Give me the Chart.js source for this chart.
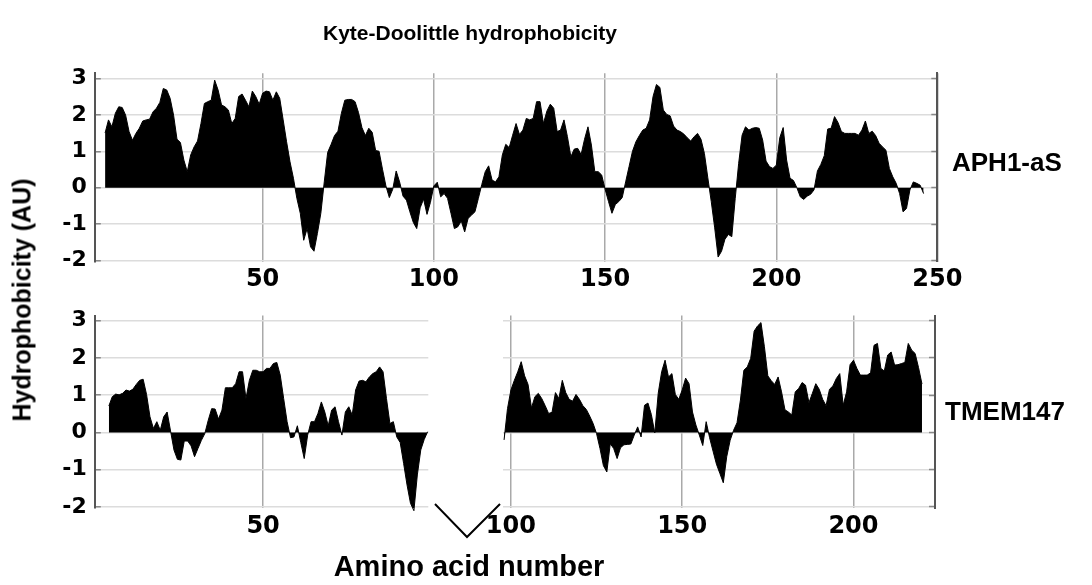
<!DOCTYPE html>
<html>
<head>
<meta charset="utf-8">
<title>Kyte-Doolittle hydrophobicity</title>
<script src="https://cdn.jsdelivr.net/npm/chart.js@4.4.1/dist/chart.umd.min.js"></script>
<style>
  body { margin: 0; background: #fff; }
  #page {
    position: relative; width: 1092px; height: 585px; overflow: hidden;
    font-family: "Liberation Sans", Arial, sans-serif; font-weight: bold; color: #000;
  }
  canvas.layer { position: absolute; left: 0; top: 0; }
  .label { position: absolute; white-space: nowrap; transform: translate(-50%, -50%); }
  .side { position: absolute; white-space: nowrap; transform: translateY(-50%); font-size: 26px; }
</style>
</head>
<body>
<div id="page">
  <canvas id="aphChart" class="layer" width="1092" height="585"></canvas>
  <canvas id="tmemLeftChart" class="layer" width="1092" height="585"></canvas>
  <canvas id="tmemRightChart" class="layer" width="1092" height="585"></canvas>

  <div class="label" style="left:470px; top:33px; font-size:21px;">Kyte-Doolittle hydrophobicity</div>
  <div class="label" style="left:22px; top:300px; font-size:25px; transform:translate(-50%,-50%) rotate(-90deg);">Hydrophobicity (AU)</div>
  <div class="label" style="left:469px; top:566px; font-size:29px;">Amino acid number</div>
  <div class="side" style="left:952px; top:162px;">APH1-aS</div>
  <div class="side" style="left:945px; top:411px;">TMEM147</div>

  <!-- break mark between the two TMEM147 segments -->
  <svg style="position:absolute; left:0; top:0;" width="1092" height="585">
    <polyline points="435,504 467,537 500,504" fill="none" stroke="#000" stroke-width="2"/>
  </svg>
</div>

<script>
// 1. data read from the profile (residue number = start + index)
const aph1Start = 4;
const aph1Values = [
  1.5, 1.86, 1.67, 2.04, 2.22, 2.2, 1.99, 1.54, 1.3, 1.49,          // 4-13
  1.63, 1.83, 1.86, 1.88, 2.08, 2.18, 2.34, 2.72, 2.68, 2.45,       // 14-23
  1.99, 1.33, 1.24, 0.76, 0.44, 0.9, 1.12, 1.28, 1.76, 2.31,        // 24-33
  2.36, 2.4, 2.95, 2.68, 2.27, 2.22, 2.13, 1.76, 1.9, 2.5,          // 34-43
  2.57, 2.4, 2.22, 2.65, 2.5, 2.29, 2.59, 2.65, 2.63, 2.4,          // 44-53
  2.63, 2.45, 1.86, 1.26, 0.71, 0.26, -0.29, -0.7, -1.44, -1.12,    // 54-63
  -1.62, -1.74, -1.25, -0.7, 0.16, 0.97, 1.19, 1.43, 1.55, 2.04,    // 64-73
  2.4, 2.42, 2.42, 2.36, 2.06, 1.65, 1.43, 1.63, 1.52, 1.02,        // 74-83
  1.0, 0.51, 0.05, -0.27, -0.04, 0.46, 0.16, -0.23, -0.34, -0.66,   // 84-93
  -0.95, -1.12, -0.55, -0.31, -0.73, -0.4, 0.05, 0.15, -0.25, -0.16, // 94-103
  -0.29, -0.7, -1.12, -1.07, -0.91, -1.21, -0.84, -0.75, -0.66, -0.29, // 104-113
  0.09, 0.44, 0.6, 0.21, 0.16, 0.3, 0.9, 1.19, 1.1, 1.44,           // 114-123
  1.76, 1.46, 1.58, 1.9, 1.86, 1.9, 2.36, 2.36, 1.76, 2.1,          // 124-133
  2.29, 2.18, 1.54, 1.58, 1.86, 1.4, 0.85, 1.06, 1.08, 0.91,        // 134-143
  1.33, 1.67, 1.17, 0.44, 0.44, 0.35, -0.04, -0.38, -0.7, -0.46,    // 144-153
  -0.38, -0.27, 0.16, 0.58, 1.0, 1.26, 1.43, 1.58, 1.63, 1.86,      // 154-163
  2.5, 2.83, 2.75, 2.13, 2.01, 1.97, 1.69, 1.58, 1.54, 1.47,        // 164-173
  1.37, 1.28, 1.4, 1.49, 1.33, 0.94, 0.27, -0.38, -1.1, -1.9,       // 174-183
  -1.74, -1.41, -1.28, -1.34, -0.29, 0.67, 1.44, 1.67, 1.58, 1.63,  // 184-193
  1.65, 1.63, 1.31, 0.73, 0.58, 0.53, 0.62, 1.37, 1.65, 0.76,       // 194-203
  0.26, 0.2, 0, -0.25, -0.32, -0.23, -0.18, -0.06, 0.46, 0.64,      // 204-213
  0.88, 1.61, 1.63, 1.95, 1.79, 1.54, 1.49, 1.49, 1.49, 1.49,       // 214-223
  1.44, 1.58, 1.83, 1.49, 1.55, 1.43, 1.22, 1.12, 1.03, 0.53,       // 224-233
  0.3, 0.12, -0.16, -0.66, -0.57, -0.06, 0.16, 0.12, 0.07, -0.16    // 234-243
];

const tmemLeftStart = 5;
const tmemLeftValues = [
  0.71, 0.96, 1.03, 1.01, 1.05, 1.14, 1.11, 1.16, 1.29, 1.4,        // 5-14
  1.43, 1.02, 0.42, 0.11, 0.29, 0.06, 0.42, 0.55, 0.04, -0.47,      // 15-24
  -0.72, -0.74, -0.23, -0.23, -0.36, -0.65, -0.43, -0.21, -0.03, 0.33, // 25-34
  0.64, 0.63, 0.36, 0.6, 1.2, 1.2, 1.2, 1.31, 1.63, 1.63,           // 35-44
  0.91, 1.4, 1.67, 1.67, 1.63, 1.63, 1.72, 1.72, 1.85, 1.88,        // 45-54
  1.54, 0.91, 0.29, -0.14, -0.12, 0.18, -0.27, -0.7, -0.07, 0.29,   // 55-64
  0.29, 0.51, 0.82, 0.55, 0.18, 0.6, 0.69, 0.29, -0.07, 0.55,       // 65-74
  0.69, 0.47, 1.14, 1.38, 1.4, 1.36, 1.49, 1.58, 1.63, 1.76,        // 75-84
  1.63, 0.91, 0.24, 0.29, -0.12, -0.27, -0.83, -1.41, -1.9, -2.1,   // 85-94
  -1.14, -0.47, -0.19, 0.02                                          // 95-98
];

const tmemRightStart = 98;
const tmemRightValues = [
  -0.2, 0.64, 1.14, 1.4, 1.63, 1.9, 1.52, 1.29, 0.66, 0.96,         // 98-107
  1.05, 0.91, 0.72, 0.51, 0.54, 1.07, 0.91, 1.4, 1.07, 0.89,        // 108-117
  0.84, 1.02, 0.89, 0.72, 0.62, 0.44, 0.24, -0.03, -0.43, -0.89,    // 118-127
  -1.06, -0.3, -0.43, -0.7, -0.41, -0.33, -0.32, -0.31, -0.07, 0.15, // 128-137
  -0.12, 0.73, 0.79, 0.48, -0.01, 1.05, 1.63, 1.94, 1.49, 1.58,     // 138-147
  1.02, 0.89, 1.14, 1.46, 1.31, 0.55, 0.2, -0.07, -0.35, 0.29,      // 148-157
  -0.14, -0.5, -0.85, -1.1, -1.35, -0.65, -0.21, 0.06, 0.26, 0.87,  // 158-167
  1.67, 1.76, 1.99, 2.72, 2.86, 2.95, 2.3, 1.52, 1.39, 1.29,        // 168-177
  1.49, 1.09, 0.61, 0.55, 0.47, 1.09, 1.18, 1.34, 1.27, 0.8,        // 178-187
  1.05, 1.31, 1.16, 0.89, 0.72, 1.16, 1.25, 1.45, 1.58, 0.73,       // 188-197
  1.09, 1.82, 1.94, 1.72, 1.54, 1.54, 1.54, 1.6, 2.34, 2.39,        // 198-207
  1.72, 1.65, 2.08, 2.16, 1.81, 1.82, 1.85, 1.88, 2.39, 2.21,       // 208-217
  2.12, 1.74, 1.3                                                    // 218-220
];

// tick labels
const yTicks = [-2, -1, 0, 1, 2, 3];
const aph1XTicks = [50, 100, 150, 200, 247];
const aph1XLabels = ['50', '100', '150', '200', '250'];
const tmemLeftXTicks = [50];
const tmemRightXTicks = [100, 150, 200];

// 2. shared styles
const tickFont = { family: 'DejaVu Sans', weight: 'bold', size: 22 };
const xTickFont = { family: 'DejaVu Sans', weight: 'bold', size: 24 };
const axisColor = '#555';

function toPoints(start, values) {
    return values.map((v, i) => ({ x: start + i, y: v }));
}

// 3. one profile chart; area = page pixels of the plot box
function buildProfile(canvasId, cfg) {
    const ctx = document.getElementById(canvasId).getContext('2d');
    const a = cfg.area;
    return new Chart(ctx, {
        type: 'line',
        data: {
            datasets: [{
                data: cfg.points,
                borderColor: '#000',
                backgroundColor: '#000',
                borderWidth: 1,
                pointRadius: 0,
                fill: 'origin',
                tension: 0,
                clip: 6
            }]
        },
        options: {
            responsive: false,
            animation: false,
            events: [],
            layout: {
                padding: {
                    left: cfg.leftLabels ? 0 : a.left,
                    right: 1092 - a.right,
                    top: a.top,
                    bottom: 585 - a.bottom - 40
                }
            },
            plugins: { legend: { display: false }, tooltip: { enabled: false } },
            scales: {
                x: {
                    type: 'linear',
                    min: cfg.xMin,
                    max: cfg.xMax,
                    afterBuildTicks: s => { s.ticks = cfg.xTicks.map(v => ({ value: v })); },
                    afterFit: s => { s.height = 40; },
                    border: { display: false },
                    grid: { color: '#a9a9a9', lineWidth: 1.5, drawTicks: false },
                    ticks: {
                        font: xTickFont, color: '#000', padding: 4,
                        maxRotation: 0, autoSkip: false,
                        callback: (v, i) => cfg.xLabels ? cfg.xLabels[i] : String(v)
                    }
                },
                y: {
                    min: -2.03,
                    max: 3.14,
                    afterBuildTicks: s => { s.ticks = yTicks.map(v => ({ value: v })); },
                    afterFit: s => { s.width = cfg.leftLabels ? a.left : 0; },
                    border: { display: cfg.leftLabels, color: axisColor, width: 2 },
                    grid: {
                        color: '#dcdcdc', lineWidth: 1.5,
                        drawTicks: cfg.leftLabels, tickLength: -6, tickColor: '#888', tickWidth: 1.5
                    },
                    ticks: { display: cfg.leftLabels, font: tickFont, color: '#000', padding: 14 }
                },
                yr: {
                    position: 'right',
                    min: -2.03,
                    max: 3.14,
                    afterBuildTicks: s => { s.ticks = yTicks.map(v => ({ value: v })); },
                    afterFit: s => { s.width = 0; },
                    border: { display: cfg.rightAxis, color: axisColor, width: 2 },
                    grid: {
                        display: cfg.rightAxis, drawOnChartArea: false,
                        drawTicks: true, tickLength: -6, tickColor: '#888', tickWidth: 1.5
                    },
                    ticks: { display: false }
                }
            }
        }
    });
}

document.addEventListener('DOMContentLoaded', () => {
    buildProfile('aphChart', {
        points: toPoints(aph1Start, aph1Values),
        xMin: 1, xMax: 247,
        xTicks: aph1XTicks, xLabels: aph1XLabels,
        area: { left: 94.8, right: 937.3, top: 73.2, bottom: 261.8 },
        leftLabels: true, rightAxis: true
    });
    buildProfile('tmemLeftChart', {
        points: toPoints(tmemLeftStart, tmemLeftValues),
        xMin: 0.9, xMax: 98.2,
        xTicks: tmemLeftXTicks,
        area: { left: 94.8, right: 428.3, top: 315.5, bottom: 508.1 },
        leftLabels: true, rightAxis: false
    });
    buildProfile('tmemRightChart', {
        points: toPoints(tmemRightStart, tmemRightValues),
        xMin: 97.6, xMax: 223.8,
        xTicks: tmemRightXTicks,
        area: { left: 502.7, right: 935, top: 315.5, bottom: 508.1 },
        leftLabels: false, rightAxis: true
    });
});
</script>
</body>
</html>
